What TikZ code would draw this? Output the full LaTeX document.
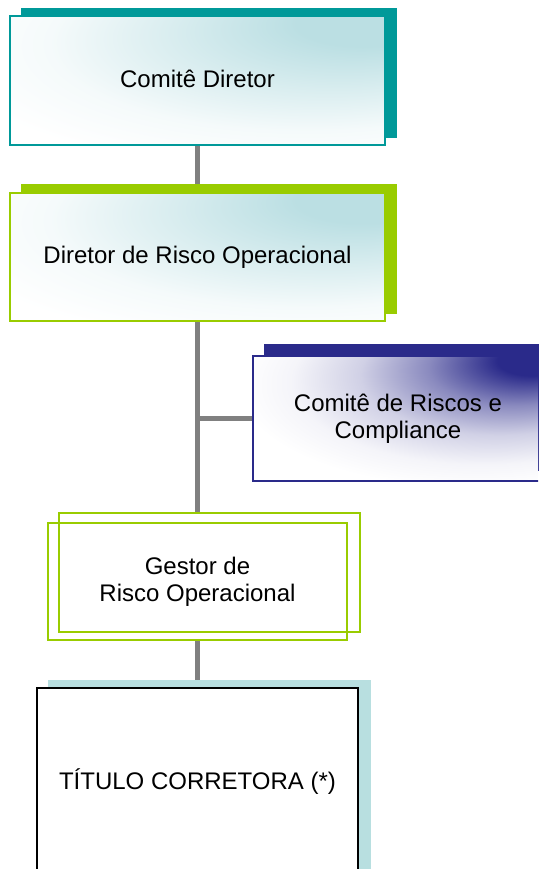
\documentclass[tikz,border=0pt]{standalone}
\usepackage{fontspec}
\setmainfont{Liberation Sans}
\usetikzlibrary{backgrounds}
\definecolor{tealc}{HTML}{009999}
\definecolor{greenc}{HTML}{99CC00}
\definecolor{navyc}{HTML}{2A2A8A}
\definecolor{lblue}{HTML}{BBDFE3}
\definecolor{tshadow}{HTML}{B8DFE0}
\definecolor{linec}{HTML}{808080}
\pgfdeclareradialshading{tealfade}{\pgfpoint{25bp}{25bp}}{color(0bp)=(lblue); color(9bp)=(lblue); color(22bp)=(lblue!55); color(34bp)=(lblue!15); color(45bp)=(white); color(80bp)=(white)}
\pgfdeclareradialshading{navyfade}{\pgfpoint{25bp}{25bp}}{color(0bp)=(navyc); color(6bp)=(navyc); color(15bp)=(navyc!55); color(24bp)=(navyc!22); color(33bp)=(navyc!5); color(40bp)=(white); color(80bp)=(white)}
\begin{document}
\begin{tikzpicture}[x=1pt,y=-1pt,
  box/.style={rectangle, inner sep=0pt, align=center, font=\fontsize{24}{27}\selectfont, line width=1.5pt},
  tealbox/.style={box, draw=tealc, shading=tealfade},
  greenbox/.style={box, draw=greenc, shading=tealfade},
  navybox/.style={box, draw=navyc, shading=navyfade},
  outlinebox/.style={box, draw=greenc, line width=2pt},
  plainbox/.style={box, draw=black, fill=white},
  conn/.style={draw=linec, line width=5pt}]
\useasboundingbox (0,0) rectangle (538,869);
\clip (0,0) rectangle (538,869);
\node[tealbox, minimum width=375pt, minimum height=129pt] (n1) at (197.5,80.5) {\raisebox{4pt}{Comitê Diretor}};
\node[greenbox, minimum width=375pt, minimum height=128pt] (n2) at (197.5,257) {\raisebox{4pt}{Diretor de Risco Operacional}};
\node[navybox, minimum width=290pt, minimum height=125pt] (n3) at (398,418.5) {Comitê de Riscos e\\Compliance};
\node[outlinebox, minimum width=299pt, minimum height=117pt] (n4) at (197.5,581.5) {Gestor de\\Risco Operacional};
\node[plainbox, minimum width=321pt, minimum height=200pt] (n5) at (197.5,788) {\raisebox{17pt}{TÍTULO CORRETORA (*)}};
\coordinate (n4top) at ([yshift=9pt]n4.north);
\coordinate (n5top) at ([yshift=7pt]n5.north);
\begin{scope}[on background layer]
\draw[conn] (n1.south) -- (n2.north);
\draw[conn] (n2.south) -- (n4top);
\draw[conn] (n2.south |- n3.west) -- (n3.west);
\draw[conn] (n4.south) -- (n5top);
\fill[tealc] ([shift={(11.5pt,7.5pt)}]n1.south west) rectangle ([shift={(11.5pt,7.5pt)}]n1.north east);
\fill[greenc] ([shift={(11.5pt,8pt)}]n2.south west) rectangle ([shift={(11.5pt,8pt)}]n2.north east);
\fill[navyc] ([shift={(12pt,11pt)}]n3.south west) rectangle ([shift={(12pt,11pt)}]n3.north east);
\fill[tshadow] ([shift={(12pt,7pt)}]n5.south west) rectangle ([shift={(12pt,7pt)}]n5.north east);
\end{scope}
\draw[draw=greenc, line width=2pt] ([shift={(11.5pt,9pt)}]n4.south west) rectangle ([shift={(11.5pt,9pt)}]n4.north east);
\end{tikzpicture}
\end{document}
